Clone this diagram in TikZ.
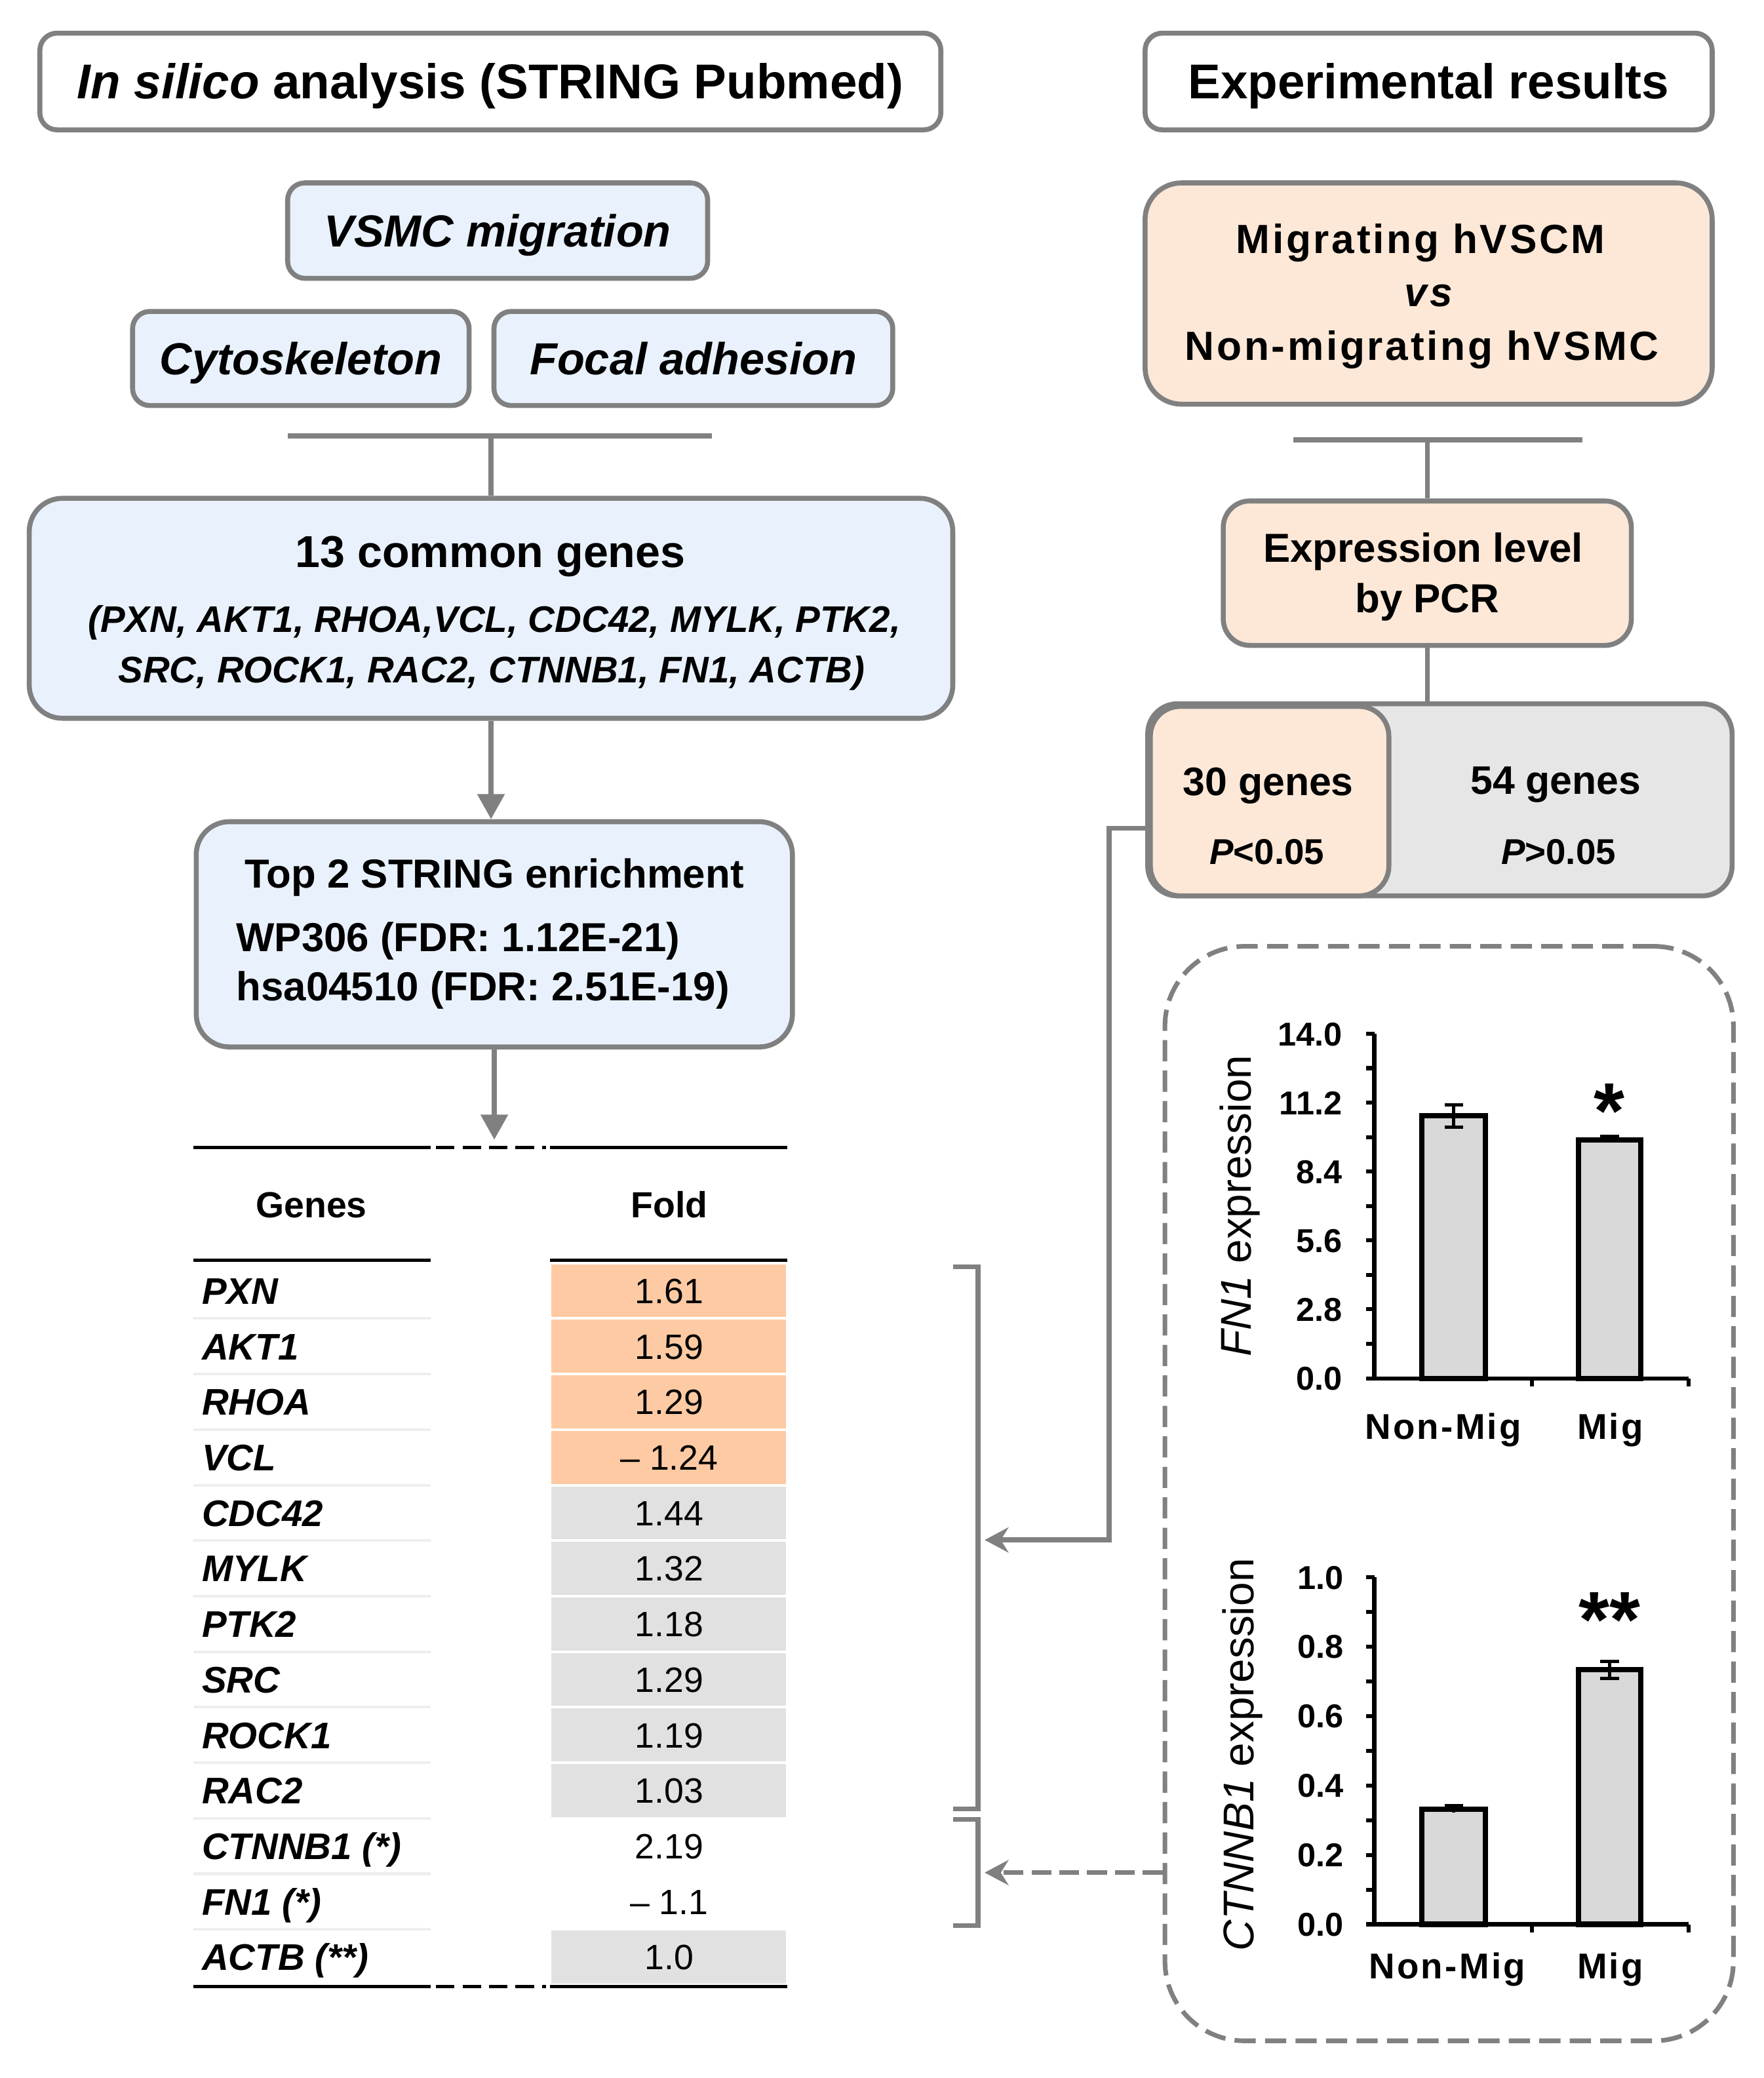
\documentclass[tikz,border=0pt]{standalone}
\usepackage{fontspec}
\setmainfont{Liberation Sans}
\newfontfamily\spacedfont[LetterSpace=6]{Liberation Sans}
\usetikzlibrary{arrows.meta,positioning}

\definecolor{edgegray}{HTML}{808080}
\definecolor{paleblue}{HTML}{E9F2FC}
\definecolor{palepeach}{HTML}{FDE8D8}
\definecolor{cellorange}{HTML}{FDCAA3}
\definecolor{cellgray}{HTML}{E1E1E1}
\definecolor{boxgray}{HTML}{E6E6E6}
\definecolor{bargray}{HTML}{D9D9D9}
\definecolor{rulegray}{HTML}{EEEEEE}

\newcommand{\fsz}[1]{\fontsize{#1}{#1}\selectfont}

\tikzset{
  box/.style={draw=edgegray, line width=0.075cm, rounded corners=0.26cm, inner sep=0pt,
    text depth=0pt},
  bluebox/.style={box, fill=paleblue},
  peachbox/.style={box, fill=palepeach},
  dashbox/.style={draw=edgegray, line width=0.07cm, dash pattern=on 0.32cm off 0.14cm,
    rounded corners=1.2cm, inner sep=0pt},
  link/.style={draw=edgegray, line width=0.075cm},
  flow/.style={link, -{Triangle[length=0.38cm, width=0.4cm]}},
  barb/.style={link, -{Stealth[length=0.36cm, width=0.38cm]}},
  txt/.style={anchor=base, inner sep=0pt},
  axis/.style={draw=black, line width=0.06cm},
  bar/.style={draw=black, fill=bargray, line width=0.08cm},
  err/.style={draw=black, line width=0.05cm},
  rule/.style={draw=black, line width=0.05cm}
}

\begin{document}
\begin{tikzpicture}[x=0.02cm, y=-0.02cm]
\useasboundingbox (0,0) rectangle (1331,1568);

% left column: in silico
\node[box, minimum width=13.6cm, minimum height=1.46cm, text height=15pt, font=\fsz{21}\bfseries] (silico) at (370,61.5) {\textit{In silico} analysis (STRING Pubmed)};
\node[bluebox, minimum width=6.34cm, minimum height=1.44cm, text height=13.8pt, font=\fsz{19.3}\bfseries\itshape] (vsmc) at (375.5,174) {VSMC migration};
\node[bluebox, minimum width=5.08cm, minimum height=1.42cm, text height=13.8pt, font=\fsz{19.3}\bfseries\itshape] (cyto) at (227,270.5) {Cytoskeleton};
\node[bluebox, minimum width=6.02cm, minimum height=1.42cm, text height=13.8pt, font=\fsz{19.3}\bfseries\itshape, right=0.3cm of cyto] (focal) {Focal adhesion};

\coordinate (joinL) at (217,329);
\coordinate (joinR) at (537,329);
\path[link] (joinL) edge (joinR);

\node[bluebox, rounded corners=0.5cm, minimum width=13.94cm, minimum height=3.32cm] (genes) at (370.5,459) {};
\node[txt, font=\fsz{19.2}\bfseries] (genestitle) at (370,428) {13 common genes};
\node[txt, font=\fsz{15.9}\bfseries\itshape] (geneslist1) at (373,477) {(PXN, AKT1, RHOA,VCL, CDC42, MYLK, PTK2,};
\node[txt, font=\fsz{15.9}\bfseries\itshape] (geneslist2) at (371,515) {SRC, ROCK1, RAC2, CTNNB1, FN1, ACTB)};
\path[link] (genes.north |- joinL) edge (genes.north);

\node[bluebox, rounded corners=0.5cm, minimum width=9cm, minimum height=3.4cm] (top2) at (373,705) {};
\node[txt, font=\fsz{17.4}\bfseries] (top2title) at (373,670) {Top 2 STRING enrichment};
\node[txt, anchor=base west, font=\fsz{17.4}\bfseries] (wp) at (178,718) {WP306 (FDR: 1.12E-21)};
\node[txt, anchor=base west, font=\fsz{17.4}\bfseries] (hsa) at (178,755) {hsa04510 (FDR: 2.51E-19)};
\draw[flow] (genes.south) -- (genes.south |- top2.north);

\coordinate (tabhead) at (372,860);
\draw[flow] (top2.south) -- (top2.south |- tabhead);

% table
\draw[rule] (146,866) -- (325,866);
\draw[rule, dash pattern=on 0.28cm off 0.12cm] (329,866) -- (412,866);
\draw[rule] (415,866) -- (594,866);
\node[txt, font=\fsz{15.6}\bfseries] (genehead) at (235,919) {Genes};
\node[txt, font=\fsz{15.6}\bfseries] (foldhead) at (505,919) {Fold};
\draw[rule] (146,951) -- (325,951);
\draw[rule] (415,951) -- (594,951);
\foreach \r in {1,...,12}
  \draw[rulegray, line width=0.04cm] (146,{953+41.9*\r}) -- (325,{953+41.9*\r});
\foreach \gene/\fold/\shade [count=\r] in {PXN/1.61/cellorange, AKT1/1.59/cellorange,
    RHOA/1.29/cellorange, VCL/{– 1.24}/cellorange, CDC42/1.44/cellgray, MYLK/1.32/cellgray,
    PTK2/1.18/cellgray, SRC/1.29/cellgray, ROCK1/1.19/cellgray, RAC2/1.03/cellgray,
    CTNNB1 (*)/2.19/white, FN1 (*)/{– 1.1}/white, ACTB (**)/1.0/cellgray}{
  \pgfmathsetmacro{\rowtop}{953+41.9*(\r-1)}
  \path[fill=\shade, draw=white, line width=0.04cm] (415,\rowtop) rectangle (594,{\rowtop+41.9});
  \node[txt, anchor=base west, font=\fsz{15.9}\bfseries\itshape] (gene\r) at (152,{\rowtop+31}) {\gene};
  \node[txt, font=\fsz{15.1}] (fold\r) at (505,{\rowtop+30.5}) {\fold};
}
\draw[rule] (146,1499) -- (325,1499);
\draw[rule, dash pattern=on 0.28cm off 0.12cm] (329,1499) -- (412,1499);
\draw[rule] (415,1499) -- (594,1499);

% brackets
\draw[link, line width=0.07cm] (719,956) -- (738,956) -- (738,1365) -- (719,1365);
\draw[link, line width=0.07cm] (719,1373) -- (738,1373) -- (738,1453) -- (719,1453);
\coordinate (bigtip) at (743,1162);
\coordinate (smalltip) at (743,1413);

% right column: experiments
\node[box, minimum width=8.56cm, minimum height=1.46cm, text height=15pt, font=\fsz{21}\bfseries] (exper) at (1078,61.5) {Experimental results};
\node[peachbox, rounded corners=0.55cm, minimum width=8.56cm, minimum height=3.34cm] (migr) at (1078,221.5) {};
\node[txt, font=\spacedfont\fsz{17.5}\bfseries] (migr1) at (1072,191) {Migrating hVSCM};
\node[txt, font=\spacedfont\fsz{17.5}\bfseries\itshape] (migr2) at (1078,231) {vs};
\node[txt, font=\spacedfont\fsz{17.5}\bfseries] (migr3) at (1073,272) {Non-migrating hVSMC};

\coordinate (cutL) at (976,332);
\coordinate (cutR) at (1194,332);
\path[link] (cutL) edge (cutR);

\node[peachbox, rounded corners=0.4cm, minimum width=6.16cm, minimum height=2.18cm] (exprs) at (1077,432.5) {};
\node[txt, font=\fsz{17.4}\bfseries] (exprs1) at (1074,424) {Expression level};
\node[txt, font=\fsz{17.4}\bfseries] (exprs2) at (1077,462) {by PCR};
\path[link] (exprs.north |- cutL) edge (exprs.north);

\node[box, fill=boxgray, rounded corners=0.45cm, minimum width=8.82cm, minimum height=2.9cm] (split) at (1086.5,603.5) {};
\node[peachbox, rounded corners=0.45cm, minimum width=3.6cm, minimum height=2.86cm] (sig) at (958,604.5) {};
\path[link] (exprs.south) edge (exprs.south |- split.north);
\node[txt, font=\fsz{17.1}\bfseries] (sig1) at (957,600) {30 genes};
\node[txt, font=\fsz{15.4}\bfseries] (sig2) at (956,652) {\textit{P}<0.05};
\node[txt, font=\fsz{17.1}\bfseries] (ns1) at (1174,599) {54 genes};
\node[txt, font=\fsz{15.4}\bfseries] (ns2) at (1176,652) {\textit{P}>0.05};

\coordinate (elbow) at (837,625);
\draw[barb] (sig.west |- elbow) -- (elbow) |- (bigtip);

\node[dashbox, minimum width=8.58cm, minimum height=16.52cm] (plots) at (1093.5,1127) {};
\draw[barb, dash pattern=on 0.3cm off 0.12cm] (plots.west |- smalltip) -- (smalltip);

% FN1 chart
\draw[bar] (1073,1040) rectangle (1121,842);
\draw[bar] (1191,1040) rectangle (1238,860);
\draw[err] (1097,833.6) -- (1097,850.4) (1090,833.6) -- (1104,833.6) (1090,850.4) -- (1104,850.4);
\draw[err] (1214.5,857.5) -- (1214.5,862) (1207.5,857.5) -- (1221.5,857.5);
\draw[axis] (1037,780) -- (1037,1040) -- (1274,1040);
\foreach \i in {0,...,10} \draw[axis] (1031,{1040-26*\i}) -- (1037,{1040-26*\i});
\foreach \xt in {1156,1274} \draw[axis] (\xt,1040) -- (\xt,1046);
\foreach \lab [count=\i from 0] in {0.0,2.8,5.6,8.4,11.2,14.0}
  \node[txt, anchor=base east, font=\fsz{14.2}\bfseries] (fnlab\i) at (1013,{1040-52*\i+9}) {\lab};
\node[txt, font=\fsz{34}\bfseries] (star1) at (1214.5,859) {*};
\node[txt, font=\spacedfont\fsz{15.4}\bfseries] (nonmig1) at (1089,1086) {Non-Mig};
\node[txt, font=\spacedfont\fsz{15.4}\bfseries] (mig1) at (1215,1086) {Mig};
\node[txt, rotate=90, font=\fsz{18.5}] (fnylab) at (944,910) {\textit{FN1} expression};

% CTNNB1 chart
\draw[bar] (1073,1452) rectangle (1121,1365);
\draw[bar] (1191,1452) rectangle (1238,1260);
\draw[err] (1097,1362.4) -- (1097,1367.6) (1090,1362.4) -- (1104,1362.4);
\draw[err] (1214.5,1253.5) -- (1214.5,1266.5) (1207.5,1253.5) -- (1221.5,1253.5) (1207.5,1266.5) -- (1221.5,1266.5);
\draw[axis] (1037,1190) -- (1037,1452) -- (1274,1452);
\foreach \i in {0,...,10} \draw[axis] (1031,{1452-26.2*\i}) -- (1037,{1452-26.2*\i});
\foreach \xt in {1156,1274} \draw[axis] (\xt,1452) -- (\xt,1458);
\foreach \lab [count=\i from 0] in {0.0,0.2,0.4,0.6,0.8,1.0}
  \node[txt, anchor=base east, font=\fsz{14.2}\bfseries] (ctlab\i) at (1014,{1452-52.4*\i+9}) {\lab};
\node[txt, font=\fsz{34}\bfseries] (star2) at (1214.5,1243) {**};
\node[txt, font=\spacedfont\fsz{15.4}\bfseries] (nonmig2) at (1092,1493) {Non-Mig};
\node[txt, font=\spacedfont\fsz{15.4}\bfseries] (mig2) at (1215,1493) {Mig};
\node[txt, rotate=90, font=\fsz{18.5}] (ctylab) at (946,1324) {\textit{CTNNB1} expression};
\end{tikzpicture}
\end{document}
